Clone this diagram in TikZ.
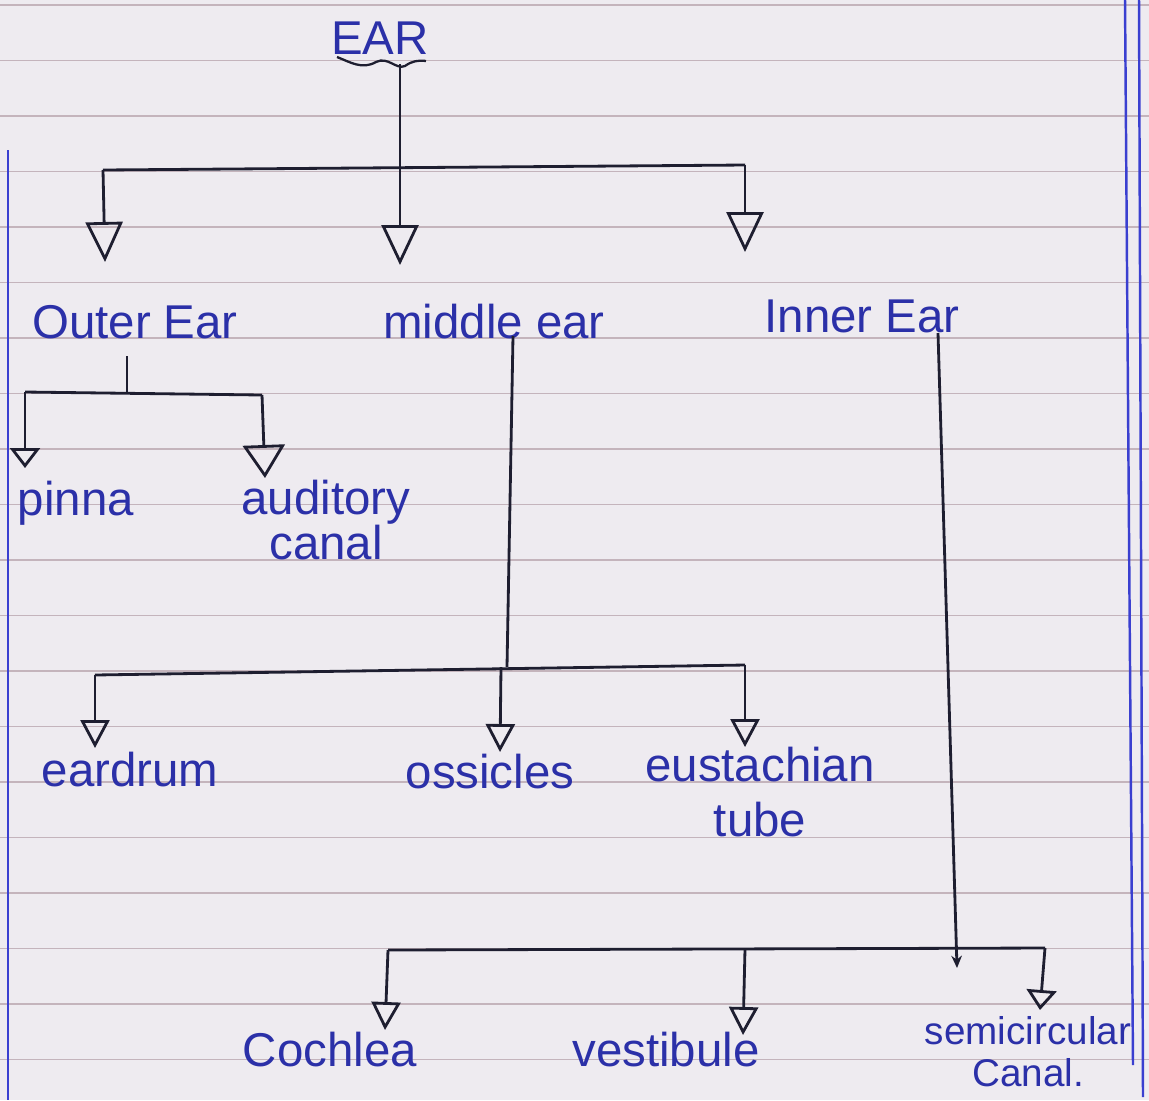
\documentclass[tikz,border=0pt]{standalone}
\usepackage{fontspec}
\setmainfont{Liberation Sans}
\usetikzlibrary{arrows.meta}
\definecolor{paper}{HTML}{EEEBF0}
\definecolor{rulecol}{HTML}{C4B4BC}
\definecolor{margincol}{HTML}{3A3FD0}
\definecolor{ink}{HTML}{1E1E30}
\definecolor{pen}{HTML}{2B30A8}
\begin{document}
\begin{tikzpicture}[x=0.02cm,y=-0.02cm,
  wire/.style={ink,line width=1.6pt},
  bigdrop/.style={wire,-{Triangle[open,length=0.8cm,width=0.74cm,line width=1.6pt]}},
  middrop/.style={wire,-{Triangle[open,length=0.56cm,width=0.58cm,line width=1.6pt]}},
  smalldrop/.style={wire,-{Triangle[open,length=0.4cm,width=0.6cm,line width=1.6pt]}},
  lbl/.style={text=pen,font=\fontsize{27}{31}\selectfont,inner sep=0pt,align=center},
  ruled/.style={rulecol,line width=0.8pt},
  marginline/.style={margincol,line width=1.4pt}]
\useasboundingbox (0,0) rectangle (1149,1100);
\fill[paper] (0,0) rectangle (1149,1100);
% ruled paper
\foreach \k in {0,...,19} \draw[ruled] (0,{5+55.5*\k}) -- (1149,{5+55.5*\k});
\draw[marginline] (8,150) -- (8,1100);
\draw[marginline] (1125,0) -- (1133,1065);
\draw[marginline] (1139,0) -- (1143,1097);

% labels
\node[lbl] (ear) at (380,38) {EAR};
\node[lbl] (outer) at (135,322) {Outer Ear};
\node[lbl] (middle) at (494,322) {middle ear};
\node[lbl] (inner) at (862,316) {Inner Ear};
\node[lbl] (pinna) at (76,503) {pinna};
\node[lbl,font=\fontsize{27}{26}\selectfont] (aud) at (326,520) {auditory\\canal};
\node[lbl] (eardrum) at (130,770) {eardrum};
\node[lbl] (ossicles) at (490,772) {ossicles};
\node[lbl,font=\fontsize{27}{31}\selectfont] (eust) at (760,792) {eustachian\\tube};
\node[lbl] (cochlea) at (330,1050) {Cochlea};
\node[lbl] (vest) at (666,1050) {vestibule};
\node[lbl,font=\fontsize{22}{24}\selectfont] (semi) at (1028,1052) {semicircular\\Canal.};

% wavy underline of EAR
\draw[wire,line width=1.3pt] (337,57) .. controls (350,62) and (362,70) .. (376,62)
  .. controls (388,56) and (396,70) .. (405,66) .. controls (412,61) and (418,60) .. (426,61);

% level 1
\coordinate (a0) at (400,64);
\coordinate (a1) at (400,167);
\coordinate (aL) at (103,170);
\coordinate (aR) at (745,165);
\coordinate (tO) at (105,262);
\coordinate (tM) at (400,265);
\coordinate (tI) at (745,252);
\draw[wire] (a0) -- (a1);
\draw[wire] (aL) -- (aR);
\draw[bigdrop] (aL) -- (tO);
\draw[bigdrop] (a1) -- (tM);
\draw[bigdrop] (aR) -- (tI);

% outer ear
\coordinate (o0) at (127,356);
\coordinate (o1) at (127,393);
\coordinate (oL) at (25,392);
\coordinate (oR) at (262,395);
\coordinate (tP) at (25,468);
\coordinate (tA) at (265,478);
\draw[wire] (o0) -- (o1);
\draw[wire] (oL) -- (oR);
\draw[smalldrop] (oL) -- (tP);
\draw[wire,-{Triangle[open,length=0.66cm,width=0.84cm,line width=1.6pt]}] (oR) -- (tA);

% middle ear
\coordinate (m0) at (513,336);
\coordinate (m1) at (507,667);
\coordinate (mL) at (95,675);
\coordinate (mR) at (745,665);
\coordinate (mO) at (501,667);
\coordinate (tE) at (95,748);
\coordinate (tS) at (500,752);
\coordinate (tU) at (745,747);
\draw[wire] (m0) -- (m1);
\draw[wire] (mL) -- (mR);
\draw[middrop] (mL) -- (tE);
\draw[middrop] (mO) -- (tS);
\draw[middrop] (mR) -- (tU);

% inner ear
\coordinate (i0) at (938,333);
\coordinate (i1) at (957,968);
\coordinate (iL) at (388,950);
\coordinate (iV) at (745,949);
\coordinate (iR) at (1045,948);
\coordinate (tC) at (385,1030);
\coordinate (tV) at (743,1035);
\coordinate (tSC) at (1040,1010);
\draw[wire,-{Stealth[length=7pt,width=6pt]}] (i0) -- (i1);
\draw[wire] (iL) -- (iR);
\draw[middrop] (iL) -- (tC);
\draw[middrop] (iV) -- (tV);
\draw[smalldrop] (iR) -- (tSC);
\end{tikzpicture}
\end{document}
